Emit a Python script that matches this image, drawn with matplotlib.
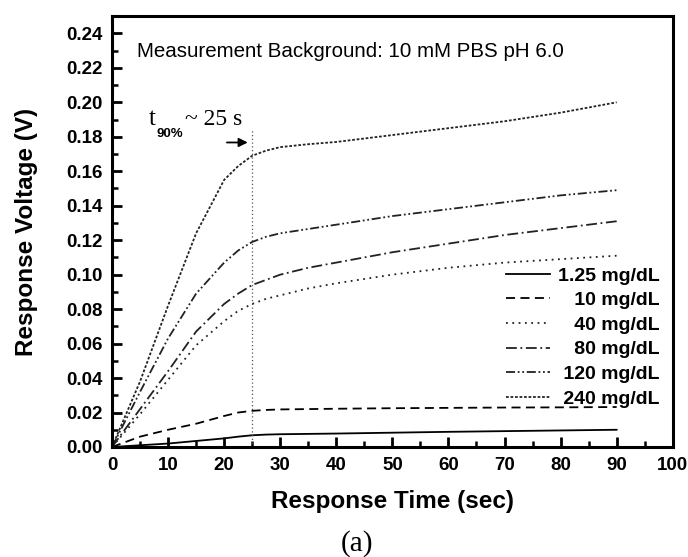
import matplotlib
matplotlib.use("Agg")
import matplotlib.pyplot as plt
from matplotlib.ticker import MultipleLocator

# time points (sec) and responses (V)
time = [0, 5, 10, 15, 20, 22.5, 25, 27.5, 30, 35, 40, 50, 60, 70, 80, 90]
v_1_25 = [0, 0.001, 0.002, 0.0035, 0.005, 0.006, 0.0068, 0.0072, 0.0074, 0.0076, 0.0078,
          0.0083, 0.0088, 0.0092, 0.0096, 0.010]
v_10 = [0, 0.006, 0.010, 0.0135, 0.018, 0.020, 0.021, 0.0215, 0.0218, 0.022, 0.0222,
        0.0225, 0.0227, 0.0229, 0.023, 0.0232]
v_40 = [0, 0.019, 0.039, 0.059, 0.073, 0.079, 0.083, 0.086, 0.088, 0.092, 0.095,
        0.100, 0.104, 0.107, 0.109, 0.111]
v_80 = [0, 0.022, 0.044, 0.067, 0.083, 0.089, 0.094, 0.097, 0.100, 0.104, 0.107,
        0.113, 0.118, 0.123, 0.127, 0.131]
v_120 = [0, 0.032, 0.063, 0.089, 0.107, 0.114, 0.119, 0.122, 0.124, 0.1265, 0.129,
         0.134, 0.138, 0.142, 0.146, 0.149]
v_240 = [0, 0.038, 0.082, 0.124, 0.155, 0.163, 0.169, 0.172, 0.174, 0.1757, 0.177,
         0.181, 0.185, 0.189, 0.194, 0.200]

labels = ["1.25 mg/dL", "\u2007\u200810 mg/dL", "\u2007\u200840 mg/dL",
          "\u2007\u200880 mg/dL", "\u2008120 mg/dL", "\u2008240 mg/dL"]
series = [v_1_25, v_10, v_40, v_80, v_120, v_240]
styles = ["-", (0, (5, 3)), (0, (1, 2.5)), (0, (6, 2, 1, 2)),
          (0, (5, 1.5, 1, 1.5, 1, 1.5)), (0, (1.5, 1))]
colors = ["black", "black", "#222222", "#222222", "#222222", "#222222"]

plt.rcParams["font.family"] = ["Liberation Sans", "DejaVu Sans"]

fig = plt.figure(figsize=(6.88, 5.57), dpi=100)
ax = fig.add_axes([0.1628, 0.1975, 0.815, 0.7735])

for vals, lab, ls, c in zip(series, labels, styles, colors):
    ax.plot(time, vals, linestyle=ls, color=c, linewidth=1.3, label=lab)

# t90 marker
ax.vlines(25, 0, 0.184, color="#555555", linestyle=(0, (1, 2)), linewidth=0.9)
ax.annotate("", xy=(24.7, 0.1767), xytext=(20.0, 0.1767),
            arrowprops=dict(arrowstyle="-|>", color="black", lw=1.3, mutation_scale=13))
ax.text(6.6, 0.187, "t", fontsize=18, family="Liberation Serif", va="baseline")
ax.text(8.0, 0.1814, "90%", fontsize=9.5, fontweight="bold", va="center")
ax.text(13.0, 0.187, "~ 25 s", fontsize=17, family="Liberation Serif", va="baseline")

ax.text(4.4, 0.2295, "Measurement Background: 10 mM PBS pH 6.0", fontsize=14.8, va="center")

ax.set_xlim(0, 100)
ax.set_ylim(0, 0.25)
ax.xaxis.set_major_locator(MultipleLocator(10))
ax.xaxis.set_minor_locator(MultipleLocator(5))
ax.yaxis.set_minor_locator(MultipleLocator(0.01))
ax.set_yticks([i * 0.02 for i in range(13)])
ax.set_yticklabels([f"{i * 0.02:.2f}" for i in range(13)])
ax.tick_params(which="major", direction="in", length=7, width=2, labelsize=13.5, pad=7)
ax.tick_params(which="minor", direction="in", length=4, width=1.8)
for lbl in ax.get_xticklabels() + ax.get_yticklabels():
    lbl.set_fontweight("bold")
for sp in ax.spines.values():
    sp.set_linewidth(2.2)

ax.set_xlabel("Response Time (sec)", fontsize=17.5, fontweight="bold", labelpad=12)
ax.set_ylabel("Response Voltage (V)", fontsize=17.5, fontweight="bold", labelpad=20)

leg = ax.legend(loc="upper right", bbox_to_anchor=(0.977, 0.418), frameon=False,
                prop={"weight": "bold", "size": 14}, handlelength=2.3,
                labelspacing=0.36, borderaxespad=0, borderpad=0, handletextpad=0.4)

fig.text(0.519, 0.012, "(a)", fontsize=21, family="Liberation Serif", ha="center")

fig.savefig("out.png", dpi=100)
